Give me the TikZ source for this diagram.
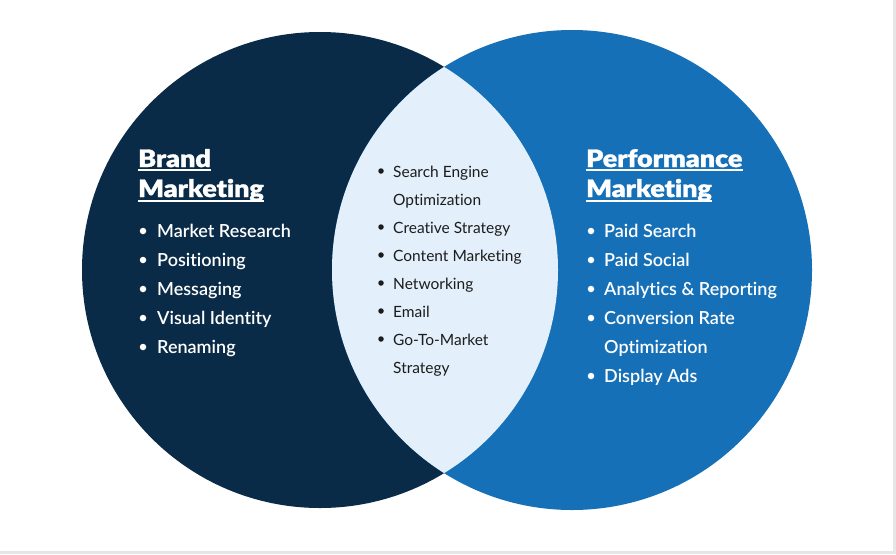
\documentclass[tikz,border=0pt]{standalone}
\usepackage{fontspec}
\setmainfont{Lato}[Ligatures=NoCommon]
\newfontfamily\headfont{Lato Black}[FakeBold=1.2,Ligatures=NoCommon]
\newfontfamily\semifont{Lato Semibold}[Ligatures=NoCommon]
\definecolor{navy}{HTML}{0A2B47}
\definecolor{pblue}{HTML}{1570B7}
\definecolor{lensc}{HTML}{E3EFFA}
\definecolor{lensink}{HTML}{1C1C1C}
\definecolor{edgegray}{HTML}{E6E6E6}
\newcommand{\hd}[1]{\scalebox{1.12}[1]{#1}}
\tikzset{
  head/.style={anchor=base west, inner sep=0pt, text=white,
    font=\headfont\fontsize{24}{27}\selectfont},
  sideitem/.style={anchor=base west, inner sep=0pt, text=white,
    font=\semifont\fontsize{18}{21}\selectfont},
  lensitem/.style={anchor=base west, inner sep=0pt, text=lensink,
    font=\fontsize{15.5}{18}\selectfont},
  dotw/.style={circle, fill=white, inner sep=0pt, minimum size=6.5pt},
  dotk/.style={circle, fill=lensink, inner sep=0pt, minimum size=5.5pt},
  uline/.style={draw=white, line width=1.3pt}
}
\begin{document}
\begin{tikzpicture}[x=1pt,y=-1pt]
\useasboundingbox (0,0) rectangle (896,554);
\fill[white] (0,0) rectangle (896,554);
\fill[edgegray] (893,0) rectangle (896,554);
\fill[edgegray] (0,551) rectangle (896,554);
% circles
\fill[navy] (320,270) circle[radius=238pt];
\fill[pblue] (572,270) circle[radius=240pt];
\begin{scope}
  \clip (320,270) circle[radius=238pt];
  \fill[lensc] (572,270) circle[radius=240pt];
\end{scope}
% left heading
\node[head] (bm1) at (138,167) {\hd{Brand}};
\node[head] (bm2) at (138,197) {\hd{Marketing}};
\draw[uline] (bm1.base west) ++(0,3) -- ([yshift=-3pt]bm1.base east);
\draw[uline] (bm2.base west) ++(0,4) -- ([yshift=-4pt]bm2.base east);
% left items
\foreach \t [count=\i] in {Market Research,Positioning,Messaging,Visual Identity,Renaming}{
  \node[dotw] (ld\i) at (143,231+29*\i-29) {};
  \node[sideitem] (lt\i) at (157,237+29*\i-29) {\t};
}
% right heading
\node[head] (pm1) at (586,167) {\hd{Performance}};
\node[head] (pm2) at (586,197) {\hd{Marketing}};
\draw[uline] (pm1.base west) ++(0,3) -- ([yshift=-3pt]pm1.base east);
\draw[uline] (pm2.base west) ++(0,4) -- ([yshift=-4pt]pm2.base east);
% right items
\node[dotw] (rd1) at (591,231) {};
\node[sideitem] (rt1) at (604,237) {Paid Search};
\node[dotw] (rd2) at (591,260) {};
\node[sideitem] (rt2) at (604,266) {Paid Social};
\node[dotw] (rd3) at (591,289) {};
\node[sideitem] (rt3) at (604,295) {Analytics \& Reporting};
\node[dotw] (rd4) at (591,318) {};
\node[sideitem] (rt4) at (604,324) {Conversion Rate};
\node[sideitem] (rt4b) at (604,353) {Optimization};
\node[dotw] (rd5) at (591,376) {};
\node[sideitem] (rt5) at (604,382) {Display Ads};
% lens items
\node[dotk] (cd1) at (381,171) {};
\node[lensitem] (ct1) at (393,177) {Search Engine};
\node[lensitem] (ct1b) at (393,205) {Optimization};
\node[dotk] (cd2) at (381,227) {};
\node[lensitem] (ct2) at (393,233) {Creative Strategy};
\node[dotk] (cd3) at (381,255) {};
\node[lensitem] (ct3) at (393,261) {Content Marketing};
\node[dotk] (cd4) at (381,283) {};
\node[lensitem] (ct4) at (393,289) {Networking};
\node[dotk] (cd5) at (381,311) {};
\node[lensitem] (ct5) at (393,317) {Email};
\node[dotk] (cd6) at (381,339) {};
\node[lensitem] (ct6) at (393,345) {Go-To-Market};
\node[lensitem] (ct6b) at (393,373) {Strategy};
\end{tikzpicture}
\end{document}
